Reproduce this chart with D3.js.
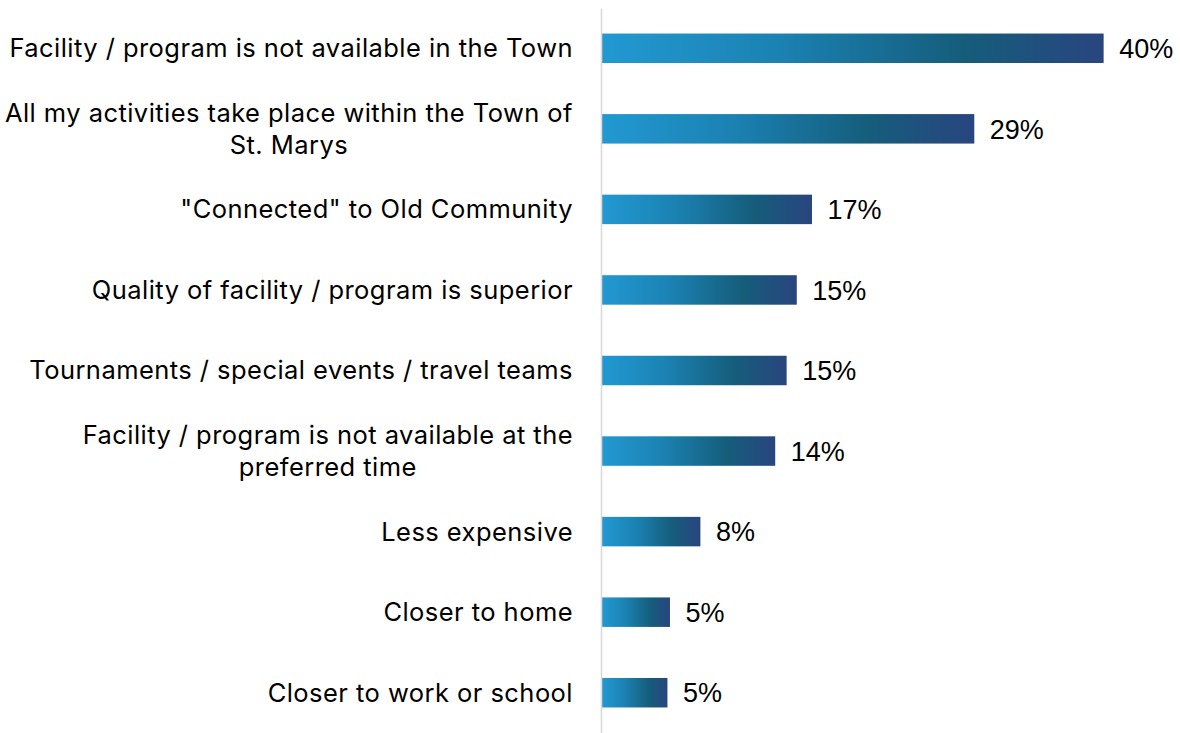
<!DOCTYPE html>
<html>
<head>
<meta charset="utf-8">
<script src="https://cdn.jsdelivr.net/npm/d3@7/dist/d3.min.js"></script>
<style>
  html, body { margin: 0; padding: 0; background: #ffffff; }
  svg { display: block; }
</style>
</head>
<body>
<svg id="chart" width="1180" height="733"></svg>
<script>
// Reasons for using facilities / programs outside the Town (share of respondents, %)
const categories = [
  "Facility / program is not available in the Town",
  "All my activities take place within the Town of\nSt. Marys",
  "\"Connected\" to Old Community",
  "Quality of facility / program is superior",
  "Tournaments / special events / travel teams",
  "Facility / program is not available at the\npreferred time",
  "Less expensive",
  "Closer to home",
  "Closer to work or school"
];
const values = [39.6, 29.4, 16.6, 15.4, 14.6, 13.7, 7.8, 5.4, 5.2];
const xDomain = [0, 40];

const W = 1180, H = 733;
const svg = d3.select("#chart");

const data = categories.map((c, i) => ({ label: c, value: values[i] }));

const x = d3.scaleLinear().domain(xDomain).range([601.5, 1108.7]);
const y = d3.scaleBand()
  .domain(categories)
  .range([8, H])
  .paddingInner(0.634)
  .paddingOuter(0.317);

// Horizontal gradient used by every bar
const defs = svg.append("defs");
const grad = defs.append("linearGradient")
  .attr("id", "barFill")
  .attr("x1", "0%").attr("y1", "0%")
  .attr("x2", "100%").attr("y2", "0%");
grad.append("stop").attr("offset", "0%").attr("stop-color", "#2299d2");
grad.append("stop").attr("offset", "35%").attr("stop-color", "#1b82b3");
grad.append("stop").attr("offset", "72%").attr("stop-color", "#155d7b");
grad.append("stop").attr("offset", "100%").attr("stop-color", "#29457f");

// Bars
svg.append("g")
  .selectAll("rect")
  .data(data)
  .join("rect")
  .attr("x", x(0))
  .attr("y", d => y(d.label))
  .attr("width", d => x(d.value) - x(0))
  .attr("height", y.bandwidth())
  .attr("fill", "url(#barFill)");

// Category axis line
const axis = svg.append("g")
  .attr("transform", `translate(${x(0) - 0.5},0)`)
  .call(d3.axisLeft(y).tickSize(0).tickSizeOuter(0).tickFormat(""));
axis.select(".domain").attr("stroke", "#d9d9d9").attr("stroke-width", 1.6);

// Category labels: block right-aligned, wrapped lines centred within block
const labelRight = 573;
const lineH = 32.5;
const labelG = svg.append("g")
  .style("font-family", "Inter, 'Noto Sans', sans-serif")
  .style("font-size", "25.5px")
  .style("letter-spacing", "0.45px")
  .attr("fill", "#000");

data.forEach(d => {
  const lines = d.label.split("\n");
  const cy = y(d.label) + y.bandwidth() / 2;
  const t = labelG.append("text");
  const tspans = lines.map((ln, j) =>
    t.append("tspan")
      .attr("y", cy + (j - (lines.length - 1) / 2) * lineH)
      .attr("dy", "0.35em")
      .text(ln));
  if (lines.length === 1) {
    t.attr("text-anchor", "end");
    tspans[0].attr("x", labelRight);
  } else {
    const maxW = d3.max(tspans, s => s.node().getComputedTextLength());
    t.attr("text-anchor", "middle");
    tspans.forEach(s => s.attr("x", labelRight - maxW / 2));
  }
});

// Value labels
svg.append("g")
  .style("font-family", "'Liberation Sans', Arial, sans-serif")
  .style("font-size", "27px")
  .attr("fill", "#000")
  .selectAll("text")
  .data(data)
  .join("text")
  .attr("x", d => x(d.value) + 15.5)
  .attr("y", d => y(d.label) + y.bandwidth() / 2)
  .attr("dy", "0.36em")
  .text(d => Math.round(d.value) + "%");
</script>
</body>
</html>
